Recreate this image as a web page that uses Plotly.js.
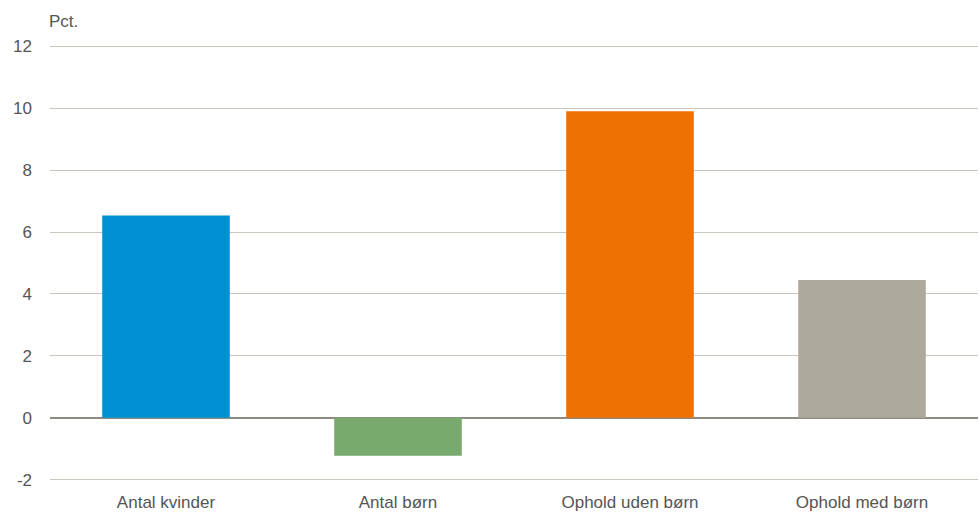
<!DOCTYPE html>
<html><head><meta charset="utf-8">
<script src="https://cdn.plot.ly/plotly-3.0.1.min.js"></script>
<style>html,body{margin:0;padding:0;background:#fff}#chart{width:979px;height:515px}</style>
</head><body><div id="chart"></div>
<script>
const categories = ["Antal kvinder", "Antal børn", "Ophold uden børn", "Ophold med børn"];
const values = [6.53, -1.22, 9.9, 4.45];
const barColors = ["#0090d4", "#78aa6e", "#ee7203", "#adaa9b"];
const yTicks = [-2, 0, 2, 4, 6, 8, 10, 12];
const yTickText = ["-2", "0", "2", "4", "6", "8", "10", "12"];
const unitLabel = "Pct.";

const font = "'Liberation Sans Narrow', 'Arial Narrow', 'Liberation Sans', Arial, sans-serif";
Plotly.newPlot("chart", [{
  type: "bar", x: categories, y: values,
  marker: {color: barColors, line: {width: 0}},
  hoverinfo: "x+y"
}], {
  width: 979, height: 515,
  margin: {l: 50, r: 1, t: 40, b: 29},
  paper_bgcolor: "#fff", plot_bgcolor: "#fff",
  bargap: 0.45,
  showlegend: false,
  font: {family: font, size: 17, color: "#555555"},
  xaxis: {showgrid: false, showline: false, ticks: "", tickfont: {size: 17, color: "#555555"}, ticklabelstandoff: 4},
  yaxis: {range: [-2.2, 12.2], tickvals: yTicks, ticktext: yTickText, showgrid: true, gridcolor: "#cac8be", gridwidth: 1,
          zeroline: true, zerolinecolor: "#8e8c80", zerolinewidth: 1.5, showline: false, ticks: "",
          ticklabelstandoff: 17, tickfont: {size: 17, color: "#555555"}},
  annotations: [{text: unitLabel, xref: "paper", yref: "paper", x: 0, y: 1, xanchor: "left", yanchor: "bottom",
    xshift: -3, yshift: 7, showarrow: false, font: {size: 17, color: "#555555", family: font}}]
}, {displayModeBar: false});
</script></body></html>
